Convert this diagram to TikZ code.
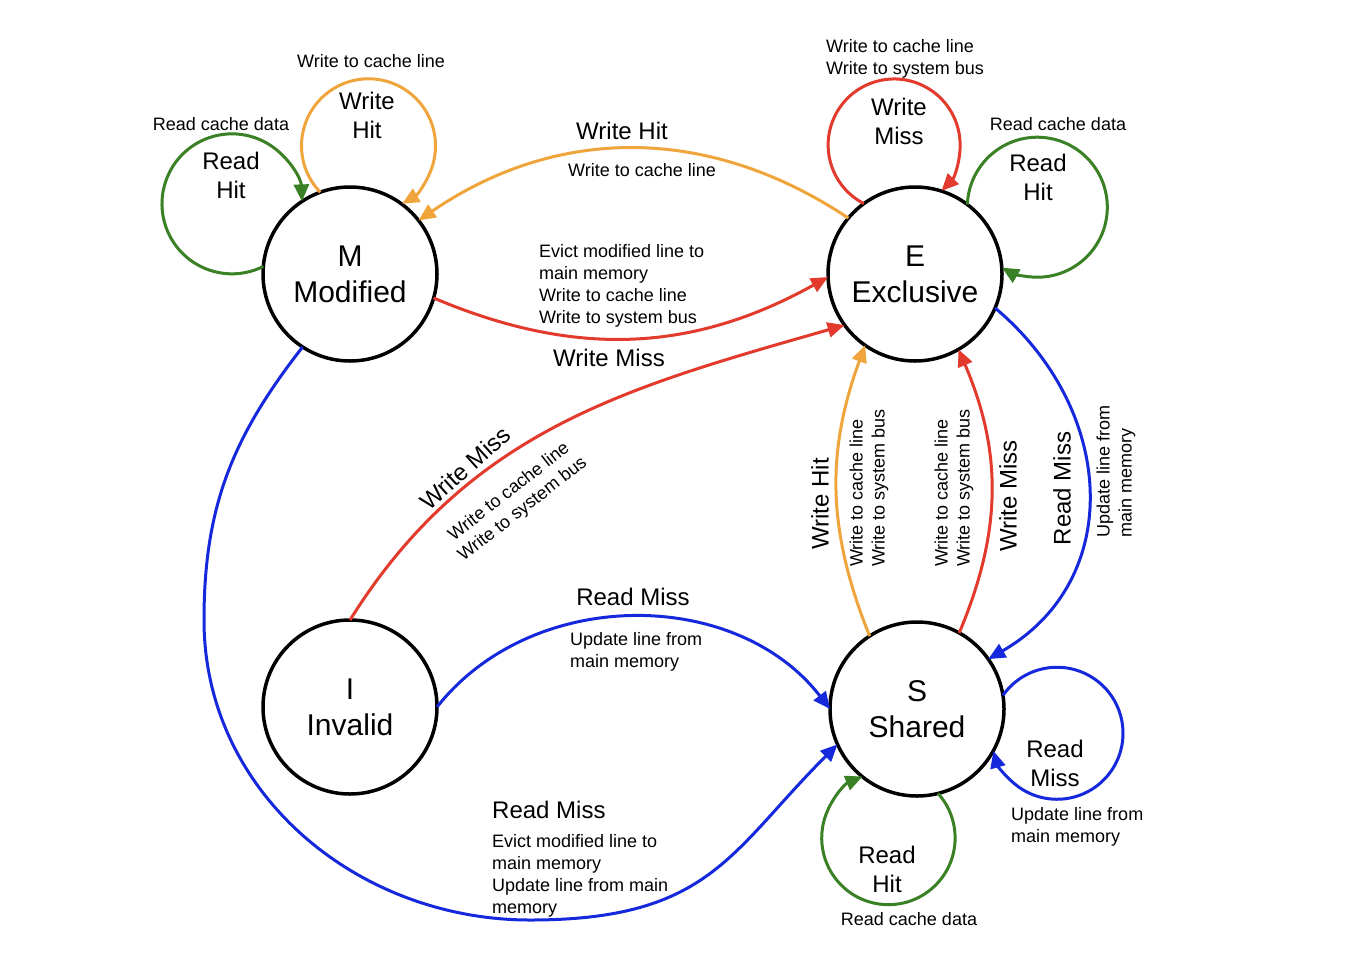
\documentclass[tikz,border=0pt]{standalone}
\usepackage{fontspec}
\setmainfont{Liberation Sans}
\usetikzlibrary{arrows.meta}
\definecolor{cOr}{RGB}{240,165,60}
\definecolor{cRd}{RGB}{226,58,44}
\definecolor{cGn}{RGB}{58,128,36}
\definecolor{cBl}{RGB}{22,40,220}
\begin{document}
\begin{tikzpicture}[x=1pt,y=1pt,
  state/.style={circle,draw,line width=3.5pt,minimum size=174pt,inner sep=0pt,outer sep=0pt,align=center,font=\fontsize{30}{36}\selectfont},
  edge/.style={line width=3pt,-{Triangle[length=17pt,width=15pt]}},
  small/.style={font=\fontsize{18}{22}\selectfont,align=left,inner sep=0pt},
  smallc/.style={font=\fontsize{18}{22}\selectfont,align=center,inner sep=0pt},
  big/.style={font=\fontsize{24}{29}\selectfont,align=center,inner sep=0pt},
]
\useasboundingbox (0,0) rectangle (1370,-956);
\fill[white] (0,0) rectangle (1370,-956);

% states
\node[state] (M) at (350,-274) {M\\Modified};
\node[state] (E) at (915,-274) {E\\Exclusive};
\node[state] (I) at (350,-707) {I\\Invalid};
\node[state] (S) at (917,-709) {S\\Shared};

% self loops
\draw[edge,cGn] (M.175) arc[start angle=-63.4,end angle=-358,radius=70];
\draw[edge,cOr] (M.110.3) arc[start angle=223.9,end angle=-59.9,radius=67];
\draw[edge,cRd] (E.126.1) arc[start angle=242.7,end angle=-44.1,radius=66];
\draw[edge,cGn] (E.53.2) arc[start angle=177.8,end angle=-120.3,radius=70];
\draw[edge,cBl] (S.9.2) arc[start angle=145,end angle=-164.5,radius=66];
\draw[edge,cGn] (S.-76.3) arc[start angle=41.9,end angle=-247.2,radius=66.7];

% transitions
\draw[edge,cOr] (E.140) to[bend right=34] (M.38);
\draw[edge,cRd] (M.-16) to[bend right=26] (E.182);
\draw[edge,cRd] (I.90) to[out=58,in=196] (E.216);
\draw[edge,cOr] (S.123.5) to[bend left=21] (E.235.6);
\draw[edge,cRd] (S.61.6) to[bend right=23] (E.-60.3);
\draw[edge,cBl] (E.-23) to[out=-40,in=30,looseness=1.15] (S.35);
\draw[edge,cBl] (I.0) to[bend left=52] (S.180);
\coordinate (mb1) at (204,-620);
\coordinate (mb2) at (530,-920);
\draw[edge,cBl] (M.237) to[out=232,in=90] (mb1) to[out=-90,in=180] (mb2)
  to[out=0,in=225,out looseness=1.3,in looseness=1.1] (S.204);

% loop labels
\node[big] (lrhM) at (231,-175.5) {Read\\Hit};
\node[smallc] (lrcdM) at (221,-124) {Read cache data};
\node[big] (lwhM) at (367,-115) {Write\\Hit};
\node[smallc] (lwclM) at (371,-61) {Write to cache line};
\node[big] (lwmE) at (899,-121.5) {Write\\Miss};
\node[small,anchor=west] (lwmEt) at (826,-59) {Write to cache line\\Write to system bus};
\node[big] (lrhE) at (1038,-177.5) {Read\\Hit};
\node[smallc] (lrcdE) at (1058,-124) {Read cache data};
\node[big] (lrmS) at (1055,-763.5) {Read\\Miss};
\node[small,anchor=west] (lrmSt) at (1011,-826.5) {Update line from\\main memory};
\node[big] (lrhS) at (887,-869) {Read\\Hit};
\node[smallc] (lrcdS) at (909,-919) {Read cache data};

% transition labels
\node[big] (lwhEM) at (622,-131) {Write Hit};
\node[smallc] (lwhEMt) at (642,-170) {Write to cache line};
\node[small,anchor=west] (lME) at (539,-286) {Evict modified line to\\main memory\\Write to cache line\\Write to system bus};
\node[big] (lwmME) at (609,-358) {Write Miss};
\node[big,rotate=42] (lwmIE) at (465,-468) {Write Miss};
\node[smallc,rotate=38] (lwmIEt) at (516,-501) {Write to cache line\\Write to system bus};
\node[big,rotate=90] (lwhSE) at (820,-504) {Write Hit};
\node[small,rotate=90,anchor=west] (lwhSEt) at (869,-567) {Write to cache line\\Write to system bus};
\node[small,rotate=90,anchor=west] (lwmSEt) at (954,-567) {Write to cache line\\Write to system bus};
\node[big,rotate=90] (lwmSE) at (1008,-496) {Write Miss};
\node[big,rotate=90] (lrmES) at (1062,-488.5) {Read Miss};
\node[small,rotate=90,anchor=west] (lrmESt) at (1116,-538) {Update line from\\main memory};
\node[big] (lrmIS) at (633,-597) {Read Miss};
\node[small,anchor=west] (lrmISt) at (570,-651.5) {Update line from\\main memory};
\node[big,anchor=west] (lrmMS) at (492,-810) {Read Miss};
\node[small,anchor=west] (lrmMSt) at (492,-875.5) {Evict modified line to\\main memory\\Update line from main\\memory};
\end{tikzpicture}
\end{document}
